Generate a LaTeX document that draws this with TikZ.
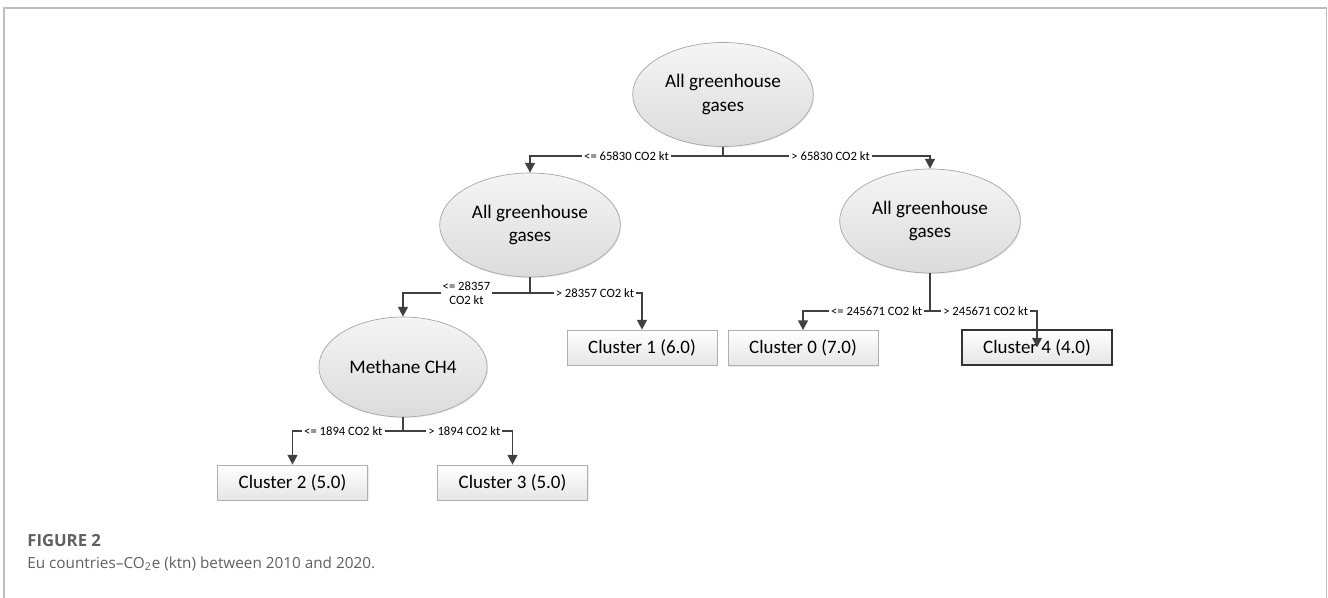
\documentclass[tikz,border=0pt]{standalone}
\usepackage{fontspec}
\setmainfont{Carlito}
\newfontfamily\capfont{Open Sans}
\usepackage{xcolor}
\usepackage{tikz}
\usetikzlibrary{positioning, calc, shapes.geometric, arrows.meta, shadows}
\definecolor{EdgeColor}{HTML}{404040}
\definecolor{NodeBorder}{HTML}{A6A6A6}
\definecolor{FrameColor}{HTML}{BDBDBD}
\definecolor{CaptionColor}{HTML}{5F5F5F}
\tikzset{
    test/.style={
        ellipse,
        minimum width=3.15cm,
        minimum height=2.08cm,
        align=center,
        draw=NodeBorder,
        top color=white!96!black,
        bottom color=white!86!black,
        drop shadow={opacity=0.15, shadow xshift=0.6pt, shadow yshift=-0.6pt},
        font=\fontsize{10.9}{13.5}\selectfont
    },
    leaf/.style={
        rectangle,
        minimum width=3.0cm,
        minimum height=0.7cm,
        draw=NodeBorder!90,
        top color=white,
        bottom color=white!90!black,
        drop shadow={opacity=0.15, shadow xshift=0.6pt, shadow yshift=-0.6pt},
        font=\fontsize{10.8}{13}\selectfont
    },
    chosen/.style={leaf, draw=black!80, line width=1.3pt},
    branch/.style={draw=EdgeColor, line width=1pt, -{Triangle[width=5.5pt, length=5.5pt]}},
    stem/.style={draw=EdgeColor, line width=1pt},
    cond/.style={fill=white, inner sep=1.2pt, align=center, font=\fontsize{7.2}{8}\selectfont}
}

\begin{document}
\begin{tikzpicture}

\useasboundingbox (0,0) rectangle (26.56,11.94);

% frame of the figure
\draw[FrameColor, line width=0.6pt] (0.08,-0.2) -- (0.08,11.78) -- (26.53,11.78) -- (26.53,-0.2);

% --- decision nodes ---
\node[test] (n_root) at (14.46, 10.05) {All greenhouse\\gases};
\node[test] (n_ghg_l) at (10.60, 7.44) {All greenhouse\\gases};
\node[test] (n_ghg_r) at (18.60, 7.52) {All greenhouse\\gases};
\node[test, minimum height=2.0cm] (n_ch4) at (8.06, 4.60) {Methane CH4};

% --- clusters ---
\node[leaf] (n_c1) at (12.84, 4.99) {Cluster 1 (6.0)};
\node[leaf] (n_c0) at (16.06, 4.98) {Cluster 0 (7.0)};
\node[chosen] (n_c4) at (20.74, 4.99) {Cluster 4 (4.0)};
\node[leaf] (n_c2) at (5.85, 2.29) {Cluster 2 (5.0)};
\node[leaf] (n_c3) at (10.25, 2.29) {Cluster 3 (5.0)};

% split points
\coordinate[below=0.18cm of n_root] (s_root);
\coordinate[below=0.32cm of n_ghg_l] (s_ghg_l);
\coordinate[below=0.76cm of n_ghg_r] (s_ghg_r);
\coordinate[below=0.28cm of n_ch4] (s_ch4);

% --- root split ---
\draw[stem] (n_root.south) -- (s_root);
\draw[branch] (s_root) -| node[cond, pos=0.25] {<= 65830 CO2 kt} (n_ghg_l.north);
\draw[branch] (s_root) -| node[cond, pos=0.26] {> 65830 CO2 kt} (n_ghg_r.north);

% --- left split ---
\draw[stem] (n_ghg_l.south) -- (s_ghg_l);
\draw[branch] (s_ghg_l) -| node[cond, pos=0.25] {<= 28357\\CO2 kt} (n_ch4.north);
\draw[branch] (s_ghg_l) -| node[cond, pos=0.29] {> 28357 CO2 kt} (n_c1.north);

% --- right split ---
\draw[stem] (n_ghg_r.south) -- (s_ghg_r);
\draw[branch] (s_ghg_r) -| node[cond, pos=0.21] {<= 245671 CO2 kt} (n_c0.north);
\draw[branch] (s_ghg_r) -| node[cond, pos=0.26] {> 245671 CO2 kt} (n_c4.center);

% --- methane split ---
\draw[stem] (n_ch4.south) -- (s_ch4);
\draw[branch] (s_ch4) -| node[cond, pos=0.27] {<= 1894 CO2 kt} (n_c2.north);
\draw[branch] (s_ch4) -| node[cond, pos=0.28] {> 1894 CO2 kt} (n_c3.north);

% caption
\node[anchor=west, inner sep=0pt, text=CaptionColor, font=\capfont\bfseries\fontsize{9.5}{11}\selectfont] (cap_title) at (0.54, 1.12) {FIGURE 2};
\node[anchor=west, inner sep=0pt, text=CaptionColor, font=\capfont\fontsize{8.7}{10}\selectfont] (cap_text) at (0.54, 0.66) {Eu countries–CO\textsubscript{2}e (ktn) between 2010 and 2020.};

\end{tikzpicture}
\end{document}
